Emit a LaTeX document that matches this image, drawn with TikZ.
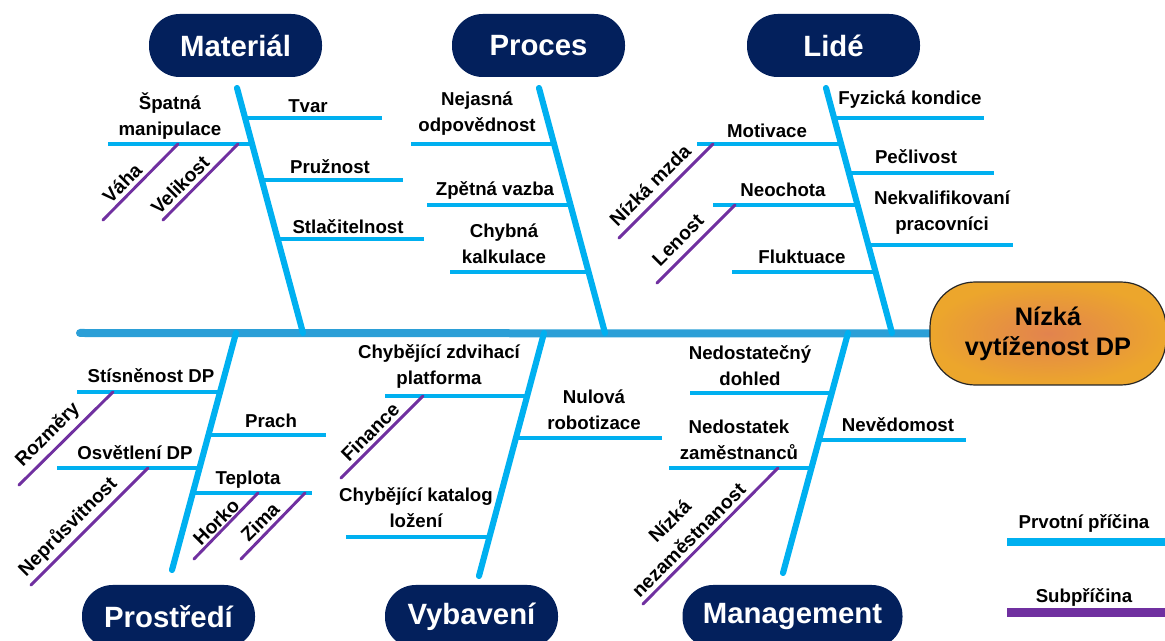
\documentclass[tikz,border=0pt]{standalone}
\usepackage{fontspec}
\setmainfont{Liberation Sans}
\usetikzlibrary{backgrounds}
\definecolor{navy}{HTML}{03205C}
\definecolor{cause}{HTML}{00B0F0}
\definecolor{spinec}{HTML}{2B9FD7}
\definecolor{subc}{HTML}{7030A0}
\definecolor{headin}{HTML}{E2834E}
\definecolor{headout}{HTML}{ECA62C}
\begin{document}
\begin{tikzpicture}[x=0.75pt,y=-0.75pt,
  category/.style={fill=navy, text=white, rounded corners=23pt,
    minimum width=129.75pt, minimum height=47.25pt, inner sep=0pt,
    font=\fontsize{22}{26}\selectfont\bfseries},
  effectbox/.style={draw=black!85, line width=0.9pt, rounded corners=34pt,
    inner color=headin, outer color=headout,
    minimum width=177pt, minimum height=77.25pt, align=center,
    font=\fontsize{19}{22.5}\selectfont\bfseries},
  lbl/.style={font=\fontsize{14}{19.5}\selectfont\bfseries, align=center, inner sep=0pt},
  sublbl/.style={lbl, font=\fontsize{14.5}{20}\selectfont\bfseries, rotate=45},
  spine/.style={draw=spinec, line width=6pt, line cap=round},
  bone/.style={draw=cause, line width=4.6pt, line cap=round},
  twig/.style={draw=cause, line width=2.5pt},
  subtwig/.style={draw=subc, line width=2.2pt, line cap=round}]
\useasboundingbox (0,0) rectangle (1165,641);
\clip (0,0) rectangle (1165,641);

% ---------- bones: top ends, bottom ends ----------
\coordinate (mat0) at (237,88);  \coordinate (mat1) at (303,333);
\coordinate (pro0) at (539,88);  \coordinate (pro1) at (605,333);
\coordinate (lid0) at (826,88);  \coordinate (lid1) at (892,333);
\coordinate (env0) at (236,333); \coordinate (env1) at (172,570);
\coordinate (eq0)  at (544,333); \coordinate (eq1)  at (479,576);
\coordinate (mg0)  at (848,333); \coordinate (mg1)  at (783,573);

% ---------- points where causes join the bones ----------
\coordinate (mat-a) at (245.1,118); \coordinate (mat-b) at (252.1,144);
\coordinate (mat-c) at (261.8,180); \coordinate (mat-d) at (277.7,239);
\coordinate (pro-a) at (554.1,144); \coordinate (pro-b) at (570.5,205);
\coordinate (pro-c) at (588.6,272);
\coordinate (lid-a) at (834.1,118); \coordinate (lid-b) at (841.1,144);
\coordinate (lid-c) at (848.9,173); \coordinate (lid-d) at (857.5,205);
\coordinate (lid-e) at (868.3,245); \coordinate (lid-f) at (875.6,272);
\coordinate (env-a) at (220.1,392); \coordinate (env-b) at (208.5,435);
\coordinate (env-c) at (199.5,468); \coordinate (env-d) at (192.8,493);
\coordinate (eq-a) at (527.1,396);  \coordinate (eq-b) at (515.9,438);
\coordinate (eq-c) at (489.4,537);
\coordinate (mg-a) at (831.75,393); \coordinate (mg-b) at (819,440);
\coordinate (mg-c) at (811.4,468);

% ---------- free ends of the causes ----------
\coordinate (mat-A) at (382,118); \coordinate (mat-B) at (108,144);
\coordinate (mat-C) at (403,180); \coordinate (mat-D) at (424,239);
\coordinate (pro-A) at (411,144); \coordinate (pro-B) at (427,205);
\coordinate (pro-C) at (450,272);
\coordinate (lid-A) at (984,118); \coordinate (lid-B) at (697,144);
\coordinate (lid-C) at (994,173); \coordinate (lid-D) at (713,205);
\coordinate (lid-E) at (1013,245); \coordinate (lid-F) at (732,272);
\coordinate (env-A) at (77,392);  \coordinate (env-B) at (326,435);
\coordinate (env-C) at (57,468);  \coordinate (env-D) at (312,493);
\coordinate (eq-A) at (385,396);  \coordinate (eq-B) at (662,438);
\coordinate (eq-C) at (346,537);
\coordinate (mg-A) at (690,393);  \coordinate (mg-B) at (966,440);
\coordinate (mg-C) at (669,468);

% ---------- sub-cause lines: start on a cause, end free ----------
\coordinate (s1a) at (178,144); \coordinate (s1b) at (103,220);
\coordinate (s2a) at (238,144); \coordinate (s2b) at (163,220);
\coordinate (s3a) at (713,144); \coordinate (s3b) at (619,238);
\coordinate (s4a) at (735,205); \coordinate (s4b) at (657,283);
\coordinate (s5a) at (113,392); \coordinate (s5b) at (19,485);
\coordinate (s6a) at (148,468); \coordinate (s6b) at (31,585);
\coordinate (s7a) at (258,493); \coordinate (s7b) at (194,559);
\coordinate (s8a) at (305,493); \coordinate (s8b) at (241,559);
\coordinate (s9a) at (423,396); \coordinate (s9b) at (341,478);
\coordinate (s10a) at (778,468); \coordinate (s10b) at (643,604);

\foreach \p/\q in {mat-a/mat-A,mat-b/mat-B,mat-c/mat-C,mat-d/mat-D,
                   pro-a/pro-A,pro-b/pro-B,pro-c/pro-C,
                   lid-a/lid-A,lid-b/lid-B,lid-c/lid-C,lid-d/lid-D,lid-e/lid-E,lid-f/lid-F,
                   env-a/env-A,env-b/env-B,env-c/env-C,env-d/env-D,
                   eq-a/eq-A,eq-b/eq-B,eq-c/eq-C,
                   mg-a/mg-A,mg-b/mg-B,mg-c/mg-C}
  {\draw[twig] (\p) -- (\q);}

\foreach \p/\q in {s1a/s1b,s2a/s2b,s3a/s3b,s4a/s4b,s5a/s5b,
                   s6a/s6b,s7a/s7b,s8a/s8b,s9a/s9b,s10a/s10b}
  {\draw[subtwig] (\p) -- (\q);}

\foreach \b in {mat,pro,lid,env,eq,mg} {\draw[bone] (\b0) -- (\b1);}

% ---------- spine and effect ----------
\coordinate (tail) at (80,333);
\node[effectbox] (effect) at (1048,333.5) {Nízká\\vytíženost DP};
\begin{scope}[on background layer]
  \draw[spine] (tail) -- (effect.west);
\end{scope}

% ---------- categories ----------
\node[category] (material) at (235.5,45.5) {Materiál};
\node[category] (proces)   at (538.5,45.5) {Proces};
\node[category] (lide)     at (833.5,45.5) {Lidé};
\node[category] (prostredi) at (168.5,616.5) {Prostředí};
\node[category] (vybaveni)  at (471.5,616.5) {Vybavení};
\node[category, minimum width=165pt] (management) at (792.5,616.5) {Management};

% ---------- cause labels ----------
\node[lbl] (tvar) at (308,106) {Tvar};
\node[lbl] (manip) at (170,116) {Špatná\\manipulace};
\node[lbl] (pruz) at (330,167) {Pružnost};
\node[lbl] (stlac) at (348,227) {Stlačitelnost};
\node[lbl] (nejas) at (477,114) {Nejasná\\odpovědnost};
\node[lbl] (zpet) at (495,190) {Zpětná vazba};
\node[lbl] (kalk) at (504,243.5) {Chybná\\kalkulace};
\node[lbl] (fyz) at (910,100) {Fyzická kondice};
\node[lbl] (pecl) at (916,157) {Pečlivost};
\node[lbl] (nekv) at (942,212.5) {Nekvalifikovaní\\pracovníci};
\node[lbl] (motiv) at (767,131) {Motivace};
\node[lbl] (neoch) at (783,190) {Neochota};
\node[lbl] (fluk) at (802,257) {Fluktuace};
\node[lbl] (stis) at (151,376) {Stísněnost DP};
\node[lbl] (prach) at (271,421) {Prach};
\node[lbl] (osvet) at (135,453) {Osvětlení DP};
\node[lbl] (tepl) at (248,480) {Teplota};
\node[lbl] (zdvih) at (439,366) {Chybějící zdvihací\\platforma};
\node[lbl] (robot) at (594,410) {Nulová\\robotizace};
\node[lbl] (katal) at (416,507.5) {Chybějící katalog\\ložení};
\node[lbl] (dohled) at (750,366) {Nedostatečný\\dohled};
\node[lbl] (neved) at (898,425) {Nevědomost};
\node[lbl] (zamest) at (739,439.5) {Nedostatek\\zaměstnanců};

% ---------- sub-cause labels ----------
\node[sublbl] (vaha) at (122,183) {Váha};
\node[sublbl] (velik) at (180,185) {Velikost};
\node[sublbl] (mzda) at (650,185) {Nízká mzda};
\node[sublbl] (lenost) at (678,240) {Lenost};
\node[sublbl] (rozm) at (48,435) {Rozměry};
\node[sublbl] (nepr) at (68,527) {Neprůsvitnost};
\node[sublbl] (horko) at (216,522) {Horko};
\node[sublbl] (zima) at (260,522) {Zima};
\node[sublbl] (fin) at (370,432) {Finance};
\node[sublbl] (nezam) at (679,530.5) {Nízká\\nezaměstnanost};

% ---------- legend ----------
\node[lbl] (lg1) at (1084,523) {Prvotní příčina};
\node[lbl] (lg2) at (1084,597) {Subpříčina};
\coordinate (lg1a) at (1007,542); \coordinate (lg1b) at (1170,542);
\coordinate (lg2a) at (1007,613); \coordinate (lg2b) at (1170,613);
\draw[draw=cause, line width=6pt] (lg1a) -- (lg1b);
\draw[draw=subc, line width=6.75pt] (lg2a) -- (lg2b);
\end{tikzpicture}
\end{document}
